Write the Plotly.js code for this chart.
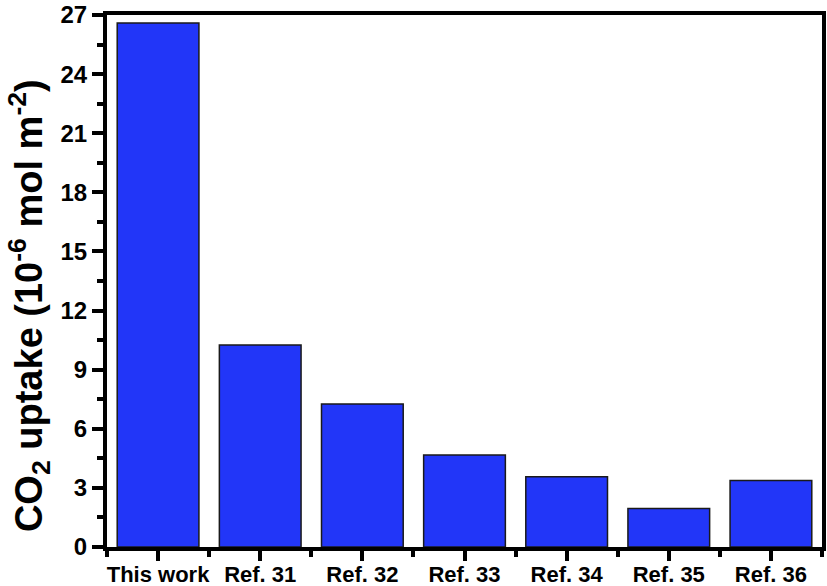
<!DOCTYPE html>
<html><head><meta charset="utf-8">
<script src="https://cdn.plot.ly/plotly-3.0.1.min.js"></script>
<style>html,body{margin:0;padding:0;background:#fff}#c{width:827px;height:586px}</style>
</head><body><div id="c"></div>
<script>
const categories = ["This work", "Ref. 31", "Ref. 32", "Ref. 33", "Ref. 34", "Ref. 35", "Ref. 36"];
const uptake = [26.6, 10.25, 7.26, 4.67, 3.57, 1.96, 3.37];
const yTitle = "<b>CO<sub>2</sub> uptake (10<sup>-6</sup> mol m<sup>-2</sup>)</b>";

const idx = categories.map((c, i) => i);
const alias = {};
categories.forEach((c, i) => { alias[String(i)] = c; });
const fam = "Liberation Sans, Arial, sans-serif";
Plotly.newPlot("c", [{
  type: "bar",
  x: idx,
  y: uptake,
  width: 0.8,
  marker: {color: "#2236f8", line: {color: "#1a1a1a", width: 1.5}},
  hoverinfo: "none"
}], {
  width: 827, height: 586,
  margin: {l: 107, r: 5, t: 15, b: 39},
  paper_bgcolor: "#fff", plot_bgcolor: "#fff",
  showlegend: false,
  font: {family: fam, color: "#000"},
  xaxis: {
    type: "linear", range: [-0.5, 6.5], tickmode: "linear", tick0: 0, dtick: 1,
    labelalias: alias,
    showgrid: false, zeroline: false,
    showline: true, linewidth: 4, linecolor: "#000", mirror: true,
    ticks: "outside", ticklen: 10, tickwidth: 4, tickcolor: "#000",
    minor: {tick0: 0.5, dtick: 0.5, ticks: "outside", ticklen: 6, tickwidth: 4, tickcolor: "#000", showgrid: false},
    tickfont: {size: 22, family: fam, color: "#000", weight: "bold"},
    ticklabelstandoff: -5
  },
  yaxis: {
    range: [0, 27], tickmode: "linear", tick0: 0, dtick: 3,
    showgrid: false, zeroline: false,
    showline: true, linewidth: 4, linecolor: "#000", mirror: true,
    ticks: "outside", ticklen: 11, tickwidth: 4, tickcolor: "#000",
    minor: {tick0: 0, dtick: 1.5, ticks: "outside", ticklen: 6, tickwidth: 4, tickcolor: "#000", showgrid: false},
    tickfont: {size: 24, family: fam, color: "#000", weight: "bold"}
  },
  annotations: [{
    text: yTitle, textangle: -90, showarrow: false,
    xref: "paper", yref: "paper", x: -0.109, y: 0.453,
    xanchor: "center", yanchor: "middle",
    font: {size: 38, family: fam, color: "#000"}
  }]
}, {staticPlot: true, displayModeBar: false});
</script></body></html>
